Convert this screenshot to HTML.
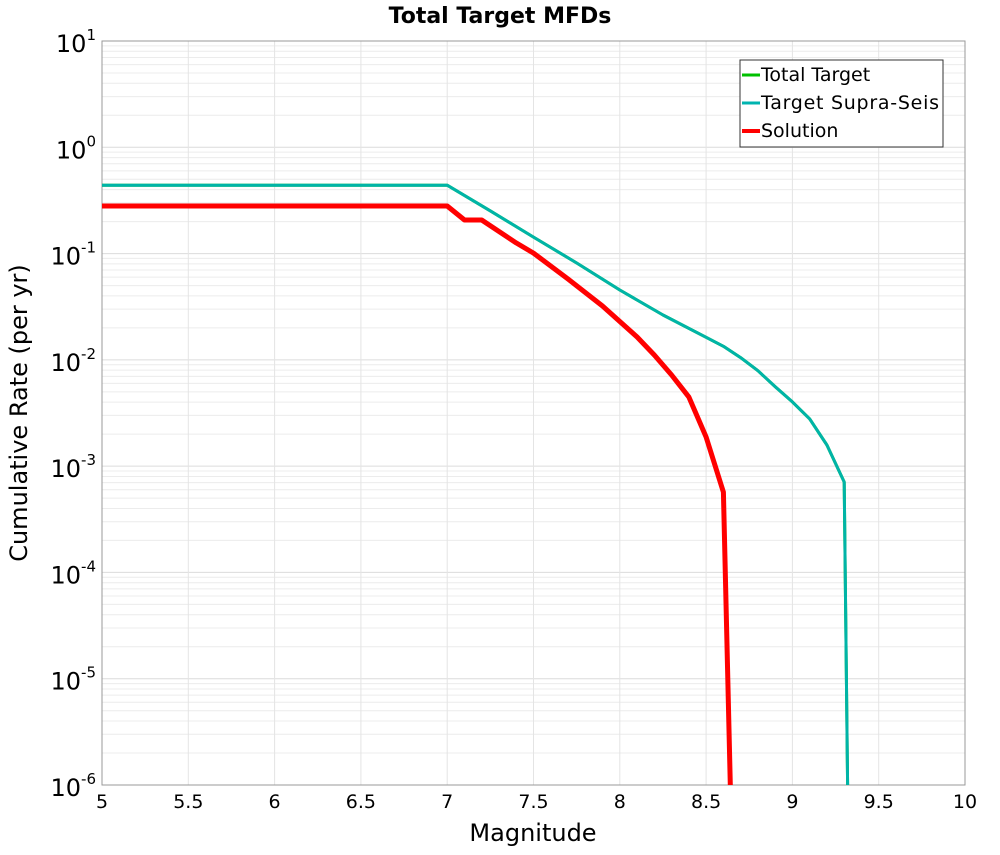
<!DOCTYPE html>
<html><head><meta charset="utf-8"><style>
body{margin:0;background:#fff;font-family:"Liberation Sans",sans-serif}
</style></head><body>
<svg id="chart" width="1000" height="850" xmlns="http://www.w3.org/2000/svg" font-family="DejaVu Sans, Liberation Sans, sans-serif">
<text x="500" y="23" text-anchor="middle" font-size="22" font-weight="bold">Total Target MFDs</text>
<g id="grid"></g>
<rect x="102" y="41" width="863" height="744" fill="none" stroke="#999" stroke-width="1"/>
<g id="ticks"></g>
<g id="series"></g>
<text x="533" y="841" text-anchor="middle" font-size="24">Magnitude</text>
<text transform="translate(27,413) rotate(-90)" text-anchor="middle" font-size="24">Cumulative Rate (per yr)</text>
<g>
<rect x="740" y="60" width="203" height="87" fill="#fff" stroke="#333" stroke-width="1"/>
<line x1="742" y1="75" x2="760" y2="75" stroke="#00c000" stroke-width="3"/>
<text x="761" y="81" font-size="19">Total Target</text>
<line x1="742" y1="103" x2="760" y2="103" stroke="#00b4b0" stroke-width="3"/>
<text x="761" y="109" font-size="19" textLength="178">Target Supra-Seis</text>
<line x1="742" y1="131" x2="760" y2="131" stroke="#ff0000" stroke-width="4"/>
<text x="761" y="137" font-size="19">Solution</text>
</g>
</svg>
<script>
const xTicks=[5,5.5,6,6.5,7,7.5,8,8.5,9,9.5,10];
const yDecades=[1,0,-1,-2,-3,-4,-5,-6];
const targetMags=[5,7.0,7.25,7.5,7.75,8.0,8.25,8.5,8.6,8.7,8.8,8.9,9.0,9.1,9.2,9.3,9.32];
const targetRates=[0.44,0.44,0.252,0.143,0.0815,0.0454,0.0264,0.0163,0.0134,0.0105,0.0079,0.0056,0.00402,0.00278,0.00158,0.00071,1e-6];
const solutionMags=[5,7.0,7.1,7.2,7.4,7.5,7.7,7.9,8.1,8.2,8.3,8.4,8.5,8.6,8.64];
const solutionRates=[0.28,0.28,0.207,0.207,0.126,0.101,0.0577,0.0321,0.0164,0.0111,0.0072,0.00448,0.00188,0.00057,1e-6];
const NS='http://www.w3.org/2000/svg';
const X0=102,X1=965,Y0=41,Y1=785;
function xs(m){return X0+(m-5)/5*(X1-X0);}
function ys(v){return Y0+(1-Math.log10(v))/7*(Y1-Y0);}
function mk(tag,attrs,parent){const e=document.createElementNS(NS,tag);for(const k in attrs)e.setAttribute(k,attrs[k]);parent.appendChild(e);return e;}
const grid=document.getElementById('grid'),ticks=document.getElementById('ticks'),series=document.getElementById('series');
for(let d=-6;d<1;d++){for(let k=1;k<10;k++){const y=ys(k*Math.pow(10,d));
const l=mk('line',{x1:X0,x2:X1,y1:y,y2:y,stroke:k==1?'#dcdcdc':'#ececec','stroke-width':1},grid);

}}
xTicks.forEach(t=>{const x=xs(t);
const l=mk('line',{x1:x,x2:x,y1:Y0,y2:Y1,stroke:'#e4e4e4','stroke-width':1},grid);


const tx=mk('text',{x:x,y:808,'text-anchor':'middle','font-size':19},ticks);
tx.textContent=String(t);

});
yDecades.forEach(d=>{const y=ys(Math.pow(10,d));
const tx=mk('text',{x:96,y:y+11,'text-anchor':'end','font-size':24},ticks);


const b=document.createElementNS(NS,'tspan');b.textContent='10';tx.appendChild(b);
const s=document.createElementNS(NS,'tspan');s.setAttribute('dy','-12');s.setAttribute('font-size','15');s.textContent=String(d);tx.appendChild(s);});
function line(ms,vs,color,w,name){const pts=ms.map((m,i)=>xs(m).toFixed(1)+','+ys(vs[i]).toFixed(1)).join(' ');
const p=mk('polyline',{points:pts,fill:'none',stroke:color,'stroke-width':w,'stroke-linejoin':'round'},series);

}
line(targetMags,targetRates,'#00c000',3,'total-target-line');
line(targetMags,targetRates,'#00b4a8',3,'target-supra-seis-line');
line(solutionMags,solutionRates,'#ff0000',5,'solution-line');
</script>
</body></html>
